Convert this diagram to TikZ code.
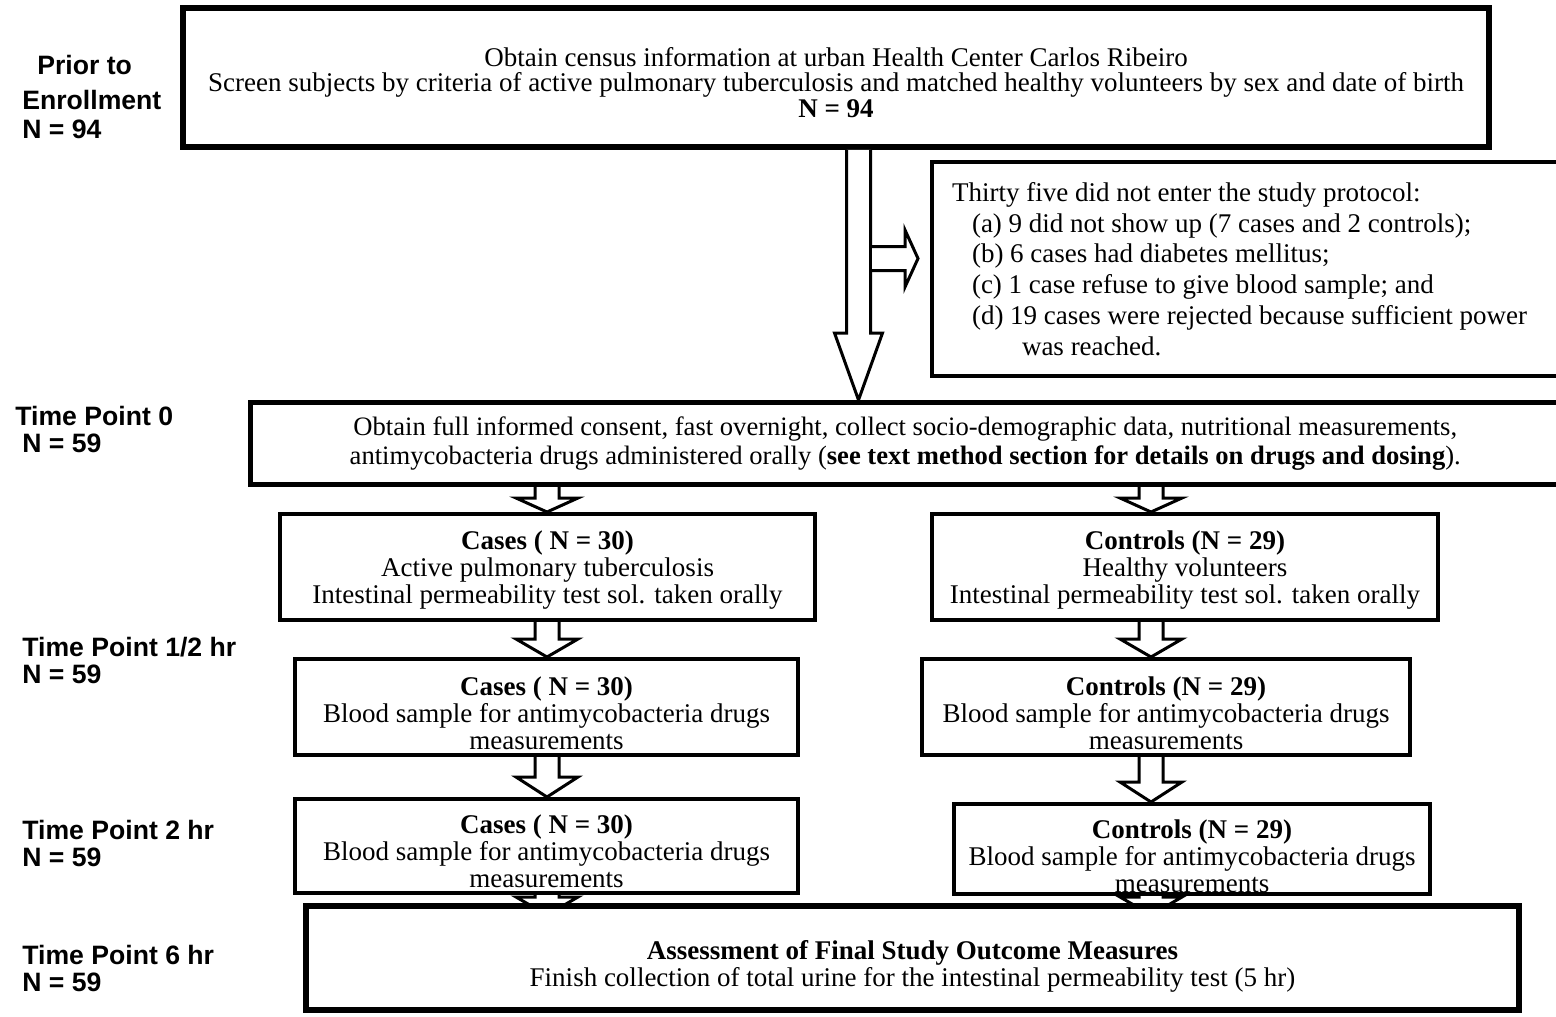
\documentclass[tikz,border=0pt]{standalone}
\usepackage{fontspec}
\setmainfont{Liberation Serif}
\newfontfamily\labelfont{Liberation Sans}
\usetikzlibrary{calc}

\tikzset{
  sidelabel/.style={font=\labelfont\bfseries\fontsize{13.3}{13.5}\selectfont, align=left, anchor=west, inner sep=0pt},
  flowbox/.style={draw, line width=2pt, fill=white, align=center, inner sep=0pt, font=\fontsize{13.5}{13.5}\selectfont},
  blockarr/.style={draw, fill=white, line width=1.5pt, line join=miter}
}

% hollow block arrow, downwards: from, to, shaft half width, head half width, head length
\newcommand{\flowdown}[5]{%
  \path[blockarr] let \p1=(#1), \p2=(#2) in
    (\x1-#3,\y1) -- (\x1-#3,\y2+#5) -- (\x1-#4,\y2+#5) -- (\x1,\y2)
    -- (\x1+#4,\y2+#5) -- (\x1+#3,\y2+#5) -- (\x1+#3,\y1);}
% same, to the right
\newcommand{\flowright}[5]{%
  \path[blockarr] let \p1=(#1), \p2=(#2) in
    (\x1,\y1+#3) -- (\x2-#5,\y1+#3) -- (\x2-#5,\y1+#4) -- (\x2,\y1)
    -- (\x2-#5,\y1-#4) -- (\x2-#5,\y1-#3) -- (\x1,\y1-#3);}

\begin{document}
\begin{tikzpicture}[x=0.5pt, y=0.5pt]
\useasboundingbox (0,0) rectangle (1556,-1016);

% time labels
\node[sidelabel] (lblpre) at (22,-97) {\hspace*{7.5pt}Prior to\\[4pt]Enrollment\\[1pt]N = 94};
\node[sidelabel] (lbl0) at (15,-429) {Time Point 0\\\hspace*{3.5pt}N = 59};
\node[sidelabel] (lbl1) at (22,-660) {Time Point 1/2 hr\\N = 59};
\node[sidelabel] (lbl2) at (22,-843.5) {Time Point 2 hr\\N = 59};
\node[sidelabel] (lbl6) at (22,-968.5) {Time Point 6 hr\\N = 59};

% boxes
\node[flowbox, line width=3pt, minimum width=653pt, minimum height=69.5pt, text height=39.9pt,
  font=\fontsize{13.5}{12.75}\selectfont] (census) at (836,-77.5)
  {Obtain census information at urban Health Center Carlos Ribeiro\\
   Screen subjects by criteria of active pulmonary tuberculosis and matched healthy volunteers by sex and date of birth\\
   \textbf{N = 94}};
\node[flowbox, minimum width=319pt, minimum height=107pt, inner xsep=10pt, text width=299pt,
  align=left, font=\fontsize{13.5}{15.4}\selectfont] (excl) at (1251,-269)
  {\spaceskip=0pt \xspaceskip=0pt Thirty five did not enter the study protocol:\\
   \hspace*{10pt}(a) 9 did not show up (7 cases and 2 controls);\\
   \hspace*{10pt}(b) 6 cases had diabetes mellitus;\\
   \hspace*{10pt}(c) 1 case refuse to give blood sample; and\\
   \hspace*{10pt}(d) 19 cases were rejected because sufficient power\\
   \hspace*{35pt}was reached.};
\node[flowbox, line width=2.5pt, minimum width=654.75pt, minimum height=41pt,
  font=\fontsize{13.3}{14.5}\selectfont] (tp0) at (905.25,-443.5)
  {Obtain full informed consent, fast overnight, collect socio-demographic data, nutritional measurements,\\
   antimycobacteria drugs administered orally (\textbf{see text method section for details on drugs and dosing}).};

\node[flowbox, minimum width=267.5pt, minimum height=53pt, text height=39.3pt] (cas1) at (547.5,-567)
  {\textbf{Cases ( N = 30)}\\Active pulmonary tuberculosis\\Intestinal permeability test sol. taken orally};
\node[flowbox, minimum width=253pt, minimum height=53pt, text height=39.3pt] (con1) at (1185,-567)
  {\textbf{Controls (N = 29)}\\Healthy volunteers\\Intestinal permeability test sol. taken orally};
\node[flowbox, minimum width=251.5pt, minimum height=48pt, text height=42.3pt] (cas2) at (546.5,-707)
  {\textbf{Cases ( N = 30)}\\Blood sample for antimycobacteria drugs\\measurements};
\node[flowbox, minimum width=244pt, minimum height=48pt, text height=42.3pt] (con2) at (1166,-707)
  {\textbf{Controls (N = 29)}\\Blood sample for antimycobacteria drugs\\measurements};
\node[flowbox, minimum width=251.5pt, minimum height=47pt, text height=41.3pt] (cas3) at (546.5,-846)
  {\textbf{Cases ( N = 30)}\\Blood sample for antimycobacteria drugs\\measurements};
\node[flowbox, minimum width=238pt, minimum height=45pt, text height=43.3pt] (con3) at (1192,-849)
  {\textbf{Controls (N = 29)}\\Blood sample for antimycobacteria drugs\\measurements};

% arrow columns
\coordinate (colL) at (547,0);
\coordinate (colR) at (1151,0);
\coordinate (colBig) at (858.5,0);
\coordinate (sidefrom) at (872,-258.5);
\coordinate (sideto) at (918,-258.5);
\coordinate (finL) at (547,-915);
\coordinate (finR) at (1151,-915);

\flowdown{census.south -| colBig}{tp0.north -| colBig}{6pt}{12pt}{33.5pt}
\flowright{sidefrom}{sideto}{6pt}{14.25pt}{6.5pt}
\flowdown{tp0.south -| colL}{cas1.north -| colL}{6pt}{15.5pt}{7pt}
\flowdown{tp0.south -| colR}{con1.north -| colR}{6pt}{15.5pt}{7pt}
\flowdown{cas1.south -| colL}{cas2.north -| colL}{6pt}{15.5pt}{9pt}
\flowdown{con1.south -| colR}{con2.north -| colR}{6pt}{15.5pt}{9pt}
\flowdown{cas2.south -| colL}{cas3.north -| colL}{6pt}{15.5pt}{10pt}
\flowdown{con2.south -| colR}{con3.north -| colR}{6pt}{15.5pt}{10pt}
\flowdown{cas3.south -| colL}{finL}{6pt}{15.5pt}{9pt}
\flowdown{con3.south -| colR}{finR}{6pt}{15.5pt}{9pt}

% final box over the last arrow heads
\node[flowbox, line width=3pt, minimum width=606.5pt, minimum height=52pt, text height=31.8pt] (final) at (912.5,-958)
  {\textbf{Assessment of Final Study Outcome Measures}\\
   Finish collection of total urine for the intestinal permeability test (5 hr)};
\end{tikzpicture}
\end{document}
